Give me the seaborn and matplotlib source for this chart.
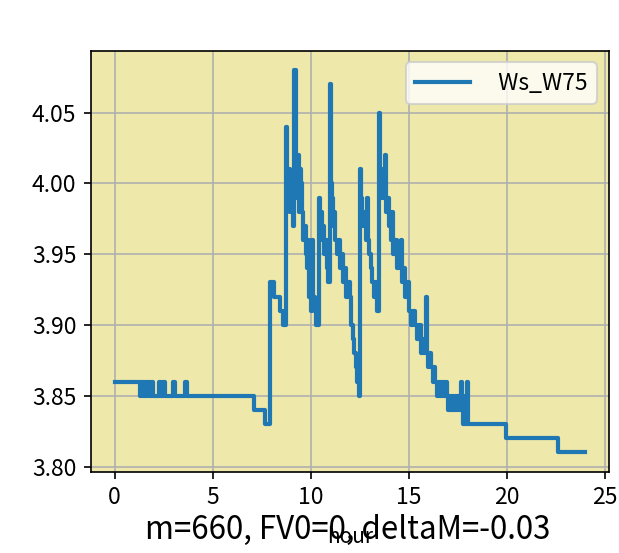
import numpy as np
import pandas as pd
import matplotlib
matplotlib.use('Agg')
import matplotlib.pyplot as plt
import seaborn as sns

# ── data: step breakpoints (hour, Ws_W75) ──
hours = [
    0.00, 1.28, 1.33, 1.38, 1.44, 1.50, 1.56, 1.62, 1.68, 1.74, 1.80, 1.86, 1.92, 1.97,
    2.28, 2.36, 2.48, 2.55, 3.00, 3.07, 3.60, 3.67, 7.12, 7.68, 7.90, 8.12, 8.42, 8.58,
    8.74, 8.80, 8.84, 8.88, 8.92, 8.96, 9.02, 9.08, 9.14, 9.24, 9.30, 9.36, 9.42, 9.47,
    9.52, 9.56, 9.62, 9.68, 9.74, 9.80, 9.86, 9.92, 9.98, 10.04, 10.08, 10.14, 10.20, 10.26,
    10.40, 10.46, 10.52, 10.58, 10.64, 10.70, 10.76, 10.82, 10.90, 10.98, 11.04, 11.08, 11.14,
    11.20, 11.26, 11.34, 11.42, 11.50, 11.58, 11.64, 11.72, 11.78, 11.90, 11.98, 12.06, 12.14,
    12.22, 12.30, 12.38, 12.44, 12.50, 12.56, 12.62, 12.68, 12.74, 12.80, 12.86, 12.92, 12.98,
    13.06, 13.14, 13.22, 13.30, 13.36, 13.46, 13.52, 13.58, 13.64, 13.70, 13.78, 13.84, 13.92,
    14.00, 14.08, 14.14, 14.22, 14.30, 14.40, 14.50, 14.60, 14.66, 14.74, 14.82, 14.92, 15.00,
    15.10, 15.20, 15.30, 15.40, 15.50, 15.60, 15.70, 15.84, 15.88, 15.92, 16.00, 16.08, 16.14,
    16.22, 16.30, 16.36, 16.44, 16.50, 16.56, 16.62, 16.68, 16.74, 16.80, 16.88, 16.94, 17.00,
    17.06, 17.12, 17.20, 17.26, 17.34, 17.40, 17.48, 17.54, 17.64, 17.70, 17.78, 17.84, 17.92,
    17.98, 18.04, 19.95, 22.62, 23.98,
]
ws_w75 = [
    3.86, 3.85, 3.86, 3.85, 3.86, 3.85, 3.86, 3.85, 3.86, 3.85, 3.86, 3.85, 3.86, 3.85,
    3.86, 3.85, 3.86, 3.85, 3.86, 3.85, 3.86, 3.85, 3.84, 3.83, 3.93, 3.92, 3.91, 3.90,
    4.04, 4.00, 3.99, 4.01, 3.98, 4.00, 3.99, 3.97, 4.08, 3.99, 4.00, 4.02, 3.98, 4.01,
    4.00, 3.98, 3.96, 3.97, 3.95, 3.94, 3.96, 3.92, 3.95, 3.91, 3.96, 3.92, 3.91, 3.90,
    3.99, 3.97, 3.98, 3.96, 3.97, 3.95, 3.96, 3.94, 3.93, 4.07, 4.00, 3.99, 3.97,
    3.98, 3.96, 3.95, 3.96, 3.94, 3.95, 3.93, 3.94, 3.92, 3.93, 3.92, 3.90, 3.89,
    3.88, 3.87, 3.86, 3.85, 4.01, 3.99, 3.98, 3.97, 3.98, 3.96, 3.99, 3.96, 3.95,
    3.94, 3.93, 3.92, 3.93, 3.91, 4.05, 3.99, 4.01, 3.99, 4.00, 4.02, 3.98, 3.99,
    3.97, 3.96, 3.98, 3.95, 3.96, 3.94, 3.95, 3.96, 3.93, 3.94, 3.92, 3.93, 3.91,
    3.90, 3.91, 3.90, 3.89, 3.90, 3.88, 3.89, 3.88, 3.92, 3.88, 3.87, 3.88, 3.87,
    3.86, 3.87, 3.86, 3.85, 3.86, 3.85, 3.86, 3.85, 3.86, 3.85, 3.86, 3.85, 3.84,
    3.85, 3.84, 3.85, 3.84, 3.85, 3.84, 3.85, 3.84, 3.86, 3.84, 3.83, 3.85, 3.83,
    3.86, 3.83, 3.82, 3.81, 3.81,
]
series_label = '  Ws_W75'
x_label = 'hour'
note = 'm=660, FV0=0, deltaM=-0.03'

df = pd.DataFrame({'hour': hours, 'Ws_W75': ws_w75})

# ── style ──
plt.rcParams['font.family'] = ['Noto Sans CJK SC', 'DejaVu Sans']
plt.rcParams['axes.unicode_minus'] = False

fig = plt.figure(figsize=(619 / 150, 553 / 150), dpi=150)
ax = fig.add_axes([91 / 619, 1 - 471.5 / 553, (608.5 - 91) / 619, (471.5 - 51) / 553])
ax.set_facecolor('palegoldenrod')

sns.lineplot(data=df, x='hour', y='Ws_W75', ax=ax, drawstyle='steps-post',
             color='#1f77b4', linewidth=2.0, label=series_label)

ax.grid(True, color='#b0b0b0', linewidth=0.8)
ax.set_xticks([0, 5, 10, 15, 20, 25])
ax.tick_params(labelsize=11)
ax.set_xlabel(x_label, fontsize=10, labelpad=8)
ax.set_ylabel('')
ax.legend(loc='upper right', fontsize=11, handlelength=2.4)

fig.text(0.562, 0.042, note, ha='center', va='center', fontsize=15)

fig.savefig('out.png', dpi=150)
